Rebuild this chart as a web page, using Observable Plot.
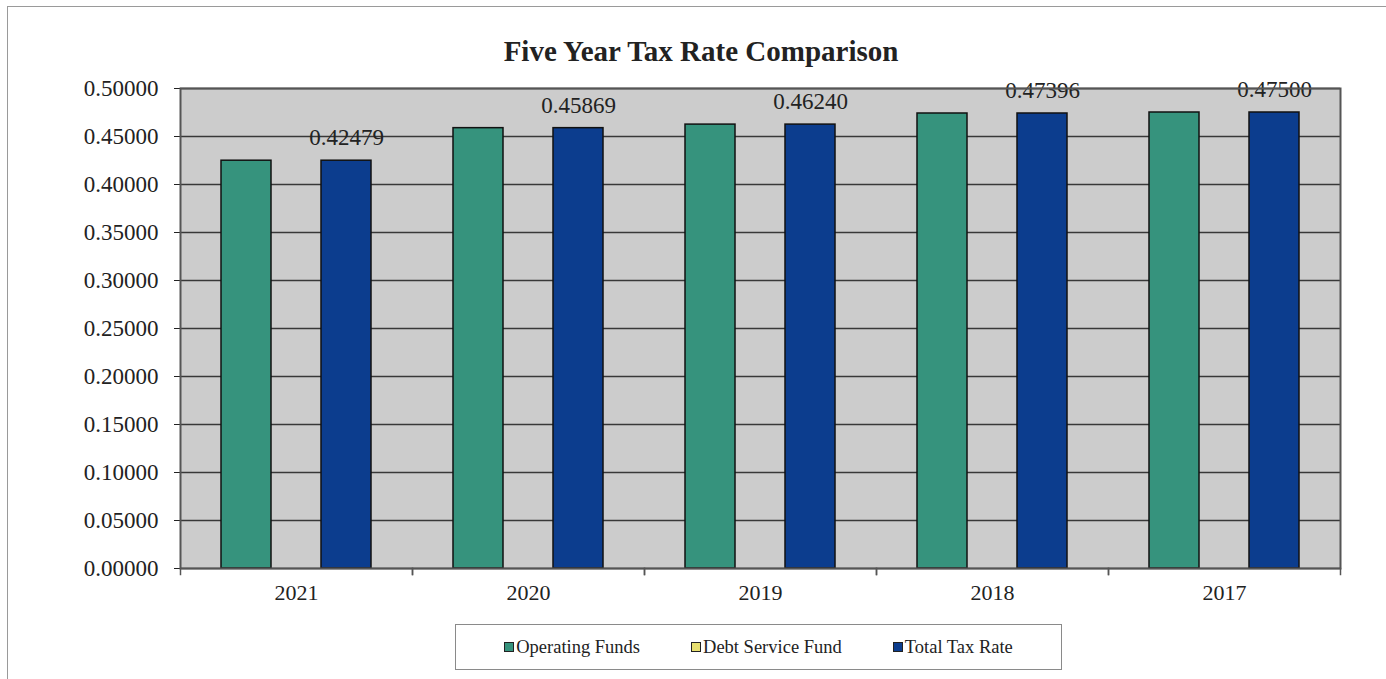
<!DOCTYPE html>
<html>
<head>
<meta charset="utf-8">
<script src="https://cdn.jsdelivr.net/npm/d3@7"></script>
<script src="https://cdn.jsdelivr.net/npm/@observablehq/plot@0.6"></script>
<style>
  html, body { margin: 0; padding: 0; background: #fff; overflow: hidden; width: 1386px; height: 679px; }
  #outer { position: absolute; left: 7px; top: 6px; width: 1400px; height: 700px; border: 1.5px solid #9a9a9a; box-sizing: border-box; }
  #title { position: absolute; left: 0; width: 1402px; top: 35px; text-align: center; font-family: "Liberation Serif", serif; font-weight: bold; font-size: 29px; color: #222; }
  #chart { position: absolute; left: 0; top: 60px; }
  #legend { position: absolute; left: 455px; top: 624px; width: 607px; height: 46px; border: 1.5px solid #8a8a8a; box-sizing: border-box; display: flex; align-items: center; justify-content: center; gap: 51px; font-family: "Liberation Serif", serif; font-size: 18.5px; color: #222; }
  .item { display: flex; align-items: center; }
  .sw { width: 8px; height: 8px; border: 1.5px solid #222; margin-right: 2px; }
</style>
</head>
<body>
<div id="outer"></div>
<div id="title">Five Year Tax Rate Comparison</div>
<div id="chart"></div>
<div id="legend"></div>
<script>
const years = ["2021", "2020", "2019", "2018", "2017"];
const series = ["Operating Funds", "Debt Service Fund", "Total Tax Rate"];
const operatingFunds = [0.42479, 0.45869, 0.46240, 0.47396, 0.47500];
const debtServiceFund = [0, 0, 0, 0, 0];
const totalTaxRate = [0.42479, 0.45869, 0.46240, 0.47396, 0.47500];
const yTicks = [0, 0.05, 0.10, 0.15, 0.20, 0.25, 0.30, 0.35, 0.40, 0.45, 0.50];
const colors = ["#36937d", "#e8e070", "#0c3d8e"];

const valuesBySeries = [operatingFunds, debtServiceFund, totalTaxRate];
const data = years.flatMap((year, i) => series.map((s, j) => ({year, series: s, value: valuesBySeries[j][i]})));
const totals = data.filter(d => d.series === "Total Tax Rate");
const fmt = d3.format(".5f");

const chart = Plot.plot({
  width: 1386,
  height: 560,
  marginTop: 28,
  marginBottom: 52,
  marginLeft: 180,
  marginRight: 46,
  style: {fontFamily: "Liberation Serif, serif", fontSize: "22px", color: "#222", background: "transparent", overflow: "visible"},
  fx: {domain: years, padding: 0, label: null, tickSize: 0, tickPadding: 16},
  x: {domain: series, paddingInner: 0, paddingOuter: 0.775, axis: null},
  y: {domain: [0, 0.5], axis: null},
  color: {domain: series, range: colors},
  marks: [
    Plot.frame({facet: "super", fill: "#cccccc"}),
    Plot.ruleY(yTicks, {stroke: "#383838", strokeWidth: 1.6}),
    Plot.barY(data, {fx: "year", x: "series", y: "value", fill: "series", stroke: "#111", strokeWidth: 1.5}),
    Plot.text(totals, {fx: "year", x: "series", y: "value", text: d => fmt(d.value), dy: -23, fontSize: 23, fill: "#222"}),
    Plot.axisY(yTicks, {tickFormat: fmt, tickSize: 6, tickPadding: 16, fontSize: 23, label: null}),
    Plot.frame({facet: "super", stroke: "#555", strokeWidth: 2}),
    Plot.frame({anchor: "left", insetTop: 480, insetBottom: -6, stroke: "#555", strokeWidth: 1.5}),
    Plot.frame({anchor: "right", insetTop: 480, insetBottom: -6, stroke: "#555", strokeWidth: 1.5})
  ]
});
document.getElementById("chart").appendChild(chart);

const legend = document.getElementById("legend");
series.forEach((s, j) => {
  const item = document.createElement("div");
  item.className = "item";
  const sw = document.createElement("span");
  sw.className = "sw";
  sw.style.background = colors[j];
  const label = document.createElement("span");
  label.textContent = s;
  item.appendChild(sw);
  item.appendChild(label);
  legend.appendChild(item);
});
</script>
</body>
</html>
